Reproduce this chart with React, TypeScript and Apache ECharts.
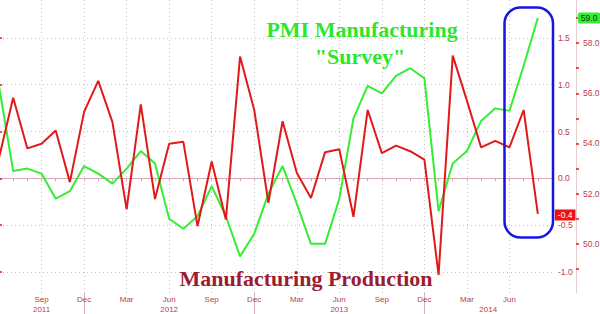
import React, { useEffect, useRef } from 'react';
import * as echarts from 'echarts';

const categories = [
  'Jun 2011', 'Jul 2011', 'Aug 2011', 'Sep 2011', 'Oct 2011', 'Nov 2011', 'Dec 2011',
  'Jan 2012', 'Feb 2012', 'Mar 2012', 'Apr 2012', 'May 2012', 'Jun 2012', 'Jul 2012', 'Aug 2012', 'Sep 2012', 'Oct 2012', 'Nov 2012', 'Dec 2012',
  'Jan 2013', 'Feb 2013', 'Mar 2013', 'Apr 2013', 'May 2013', 'Jun 2013', 'Jul 2013', 'Aug 2013', 'Sep 2013', 'Oct 2013', 'Nov 2013', 'Dec 2013',
  'Jan 2014', 'Feb 2014', 'Mar 2014', 'Apr 2014', 'May 2014', 'Jun 2014', 'Jul 2014', 'Aug 2014', 'Sep 2014',
];

// Manufacturing production, % m/m (inner right axis)
const manufacturingProduction = [
  0.22, 0.86, 0.32, 0.37, 0.51, -0.04, 0.71,
  1.04, 0.60, -0.33, 0.79, -0.22, 0.37, 0.39, -0.51, 0.18, -0.44, 1.30, 0.73,
  -0.26, 0.61, 0.06, -0.21, 0.28, 0.31, -0.41, 0.73, 0.27, 0.35, 0.29, 0.20,
  -1.03, 1.31, 0.83, 0.33, 0.40, 0.33, 0.73, -0.38,
];

// ISM manufacturing PMI (outer right axis)
const pmiManufacturing = [
  56.3, 52.9, 53.0, 52.8, 51.8, 52.1, 53.1,
  52.8, 52.4, 53.0, 53.7, 53.2, 51.0, 50.6, 51.1, 52.3, 51.1, 49.5, 50.4,
  52.0, 53.1, 51.6, 50.0, 50.0, 51.8, 55.0, 56.3, 56.0, 56.7, 57.0, 56.6,
  51.3, 53.2, 53.7, 54.9, 55.4, 55.3, 57.1, 59.0,
];

const productionTicks = [-1, -0.5, 0, 0.5, 1, 1.5];
const pmiTicks = [50, 52, 54, 56, 58];
const pmiMinorTicks = [49, 50, 51, 52, 53, 54, 55, 56, 57, 58, 59];

const titlePmi = 'PMI Manufacturing';
const titleSurvey = '"Survey"';
const titleProduction = 'Manufacturing Production';

const RED = '#e01a1a';
const GREEN = '#33ee33';
const LABEL = '#c03a4a';

export default function App() {
  const ref = useRef<HTMLDivElement>(null);

  useEffect(() => {
    if (!ref.current) return;
    const chart = echarts.init(ref.current, undefined, { renderer: 'svg' });

    // year segments: separators at December, labels centred in each segment
    const decIdx = categories.map((c, i) => (c.startsWith('Dec') ? i : -1)).filter((i) => i >= 0);
    const bounds = [0, ...decIdx, categories.length - 1];
    const yearCenters = bounds.slice(0, -1).map((b, k) => (b + bounds[k + 1]) / 2);
    const yearNames = yearCenters.map((c) => categories[Math.ceil(c)].split(' ')[1]);

    const showMonth = (i: number) => i % 3 === 0 && i > 0 && i < categories.length - 1;

    chart.setOption({
      animation: false,
      grid: { left: -1, right: 48, top: 0, bottom: 21, outerBoundsMode: 'none' },
      xAxis: [
        {
          type: 'category',
          data: categories,
          boundaryGap: false,
          axisLine: { show: true, lineStyle: { color: '#d8a8b0', width: 1 } },
          axisTick: { show: true, interval: 0, length: 3, lineStyle: { color: '#d8a8b0' } },
          axisLabel: {
            interval: (i: number) => showMonth(i),
            formatter: (v: string) => v.split(' ')[0],
            color: LABEL,
            fontSize: 8,
            lineHeight: 9,
            fontFamily: 'Liberation Sans',
            margin: 2,
          },
          splitLine: {
            show: true,
            interval: (i: number) => showMonth(i),
            lineStyle: { color: '#c4c4c4', type: [1, 3], width: 1 },
          },
        },
        {
          type: 'value',
          min: 0,
          max: categories.length - 1,
          position: 'bottom',
          axisLine: { show: false },
          splitLine: { show: false },
          axisTick: {
            show: true,
            customValues: decIdx,
            length: 21,
            lineStyle: { color: '#d8b0b8', width: 1 },
          },
          axisLabel: {
            customValues: yearCenters,
            formatter: (v: number) => {
              const k = yearCenters.findIndex((c) => Math.abs(c - v) < 0.01);
              return k >= 0 ? yearNames[k] : '';
            },
            color: LABEL,
            fontSize: 8,
            lineHeight: 9,
            fontFamily: 'Liberation Sans',
            margin: 11.5,
          },
        },
      ],
      yAxis: [
        {
          type: 'value',
          position: 'right',
          min: -1.2234,
          max: 1.904,
          axisLine: { show: true, lineStyle: { color: '#d8c4c8' } },
          axisTick: { show: true, customValues: productionTicks, length: 3, lineStyle: { color: RED, width: 1.5 } },
          axisLabel: {
            customValues: productionTicks,
            formatter: (v: number) => v.toFixed(1),
            color: LABEL,
            fontSize: 8.5,
            fontFamily: 'Liberation Sans',
            margin: 6,
          },
          splitLine: { show: true, lineStyle: { color: '#c4c4c4', type: [1, 3], width: 1 } },
        },
        {
          type: 'value',
          position: 'right',
          offset: 24,
          min: 48.04,
          max: 59.72,
          axisLine: { show: true, lineStyle: { color: '#e4ccd0' } },
          axisTick: { show: true, customValues: pmiMinorTicks, length: 3, lineStyle: { color: RED, width: 1.5 } },
          axisLabel: {
            customValues: pmiTicks,
            formatter: (v: number) => v.toFixed(1),
            color: LABEL,
            fontSize: 8.5,
            fontFamily: 'Liberation Sans',
            margin: 7,
          },
          splitLine: { show: false },
        },
      ],
      series: [
        {
          name: 'PMI Manufacturing',
          type: 'line',
          xAxisIndex: 0,
          yAxisIndex: 1,
          data: pmiManufacturing,
          showSymbol: false,
          lineStyle: { color: GREEN, width: 2 },
          itemStyle: { color: GREEN },
          endLabel: {
            show: true,
            formatter: (p: any) => Number(p.value).toFixed(1),
            color: '#0a3a0a',
            backgroundColor: GREEN,
            borderRadius: 2,
            padding: [1, 3, 1, 3],
            fontSize: 8.5,
            lineHeight: 9,
            fontFamily: 'Liberation Sans',
            offset: [32, 0],
          },
        },
        {
          name: 'Manufacturing Production',
          type: 'line',
          xAxisIndex: 0,
          yAxisIndex: 0,
          data: manufacturingProduction,
          showSymbol: false,
          lineStyle: { color: RED, width: 2 },
          itemStyle: { color: RED },
          endLabel: {
            show: true,
            formatter: (p: any) => Number(p.value).toFixed(1),
            color: '#ffffff',
            backgroundColor: '#f01010',
            padding: [1, 3, 1, 3],
            fontSize: 8.5,
            lineHeight: 9,
            fontFamily: 'Liberation Sans',
            offset: [9, 1],
          },
        },
      ],
      graphic: [
        {
          type: 'rect',
          z: 100,
          shape: { x: 504.5, y: 7.5, width: 48.5, height: 230, r: 16 },
          style: { fill: 'none', stroke: '#1616e0', lineWidth: 2.5 },
        },
        {
          type: 'text',
          z: 100,
          x: 362,
          y: 29,
          style: {
            text: titlePmi,
            fill: '#2ee52e',
            fontSize: 22,
            fontWeight: 'bold',
            fontFamily: 'Liberation Serif',
            textAlign: 'center',
            textVerticalAlign: 'middle',
          },
        },
        {
          type: 'text',
          z: 100,
          x: 360,
          y: 56,
          style: {
            text: titleSurvey,
            fill: '#2ee52e',
            fontSize: 22,
            fontWeight: 'bold',
            fontFamily: 'Liberation Serif',
            textAlign: 'center',
            textVerticalAlign: 'middle',
          },
        },
        {
          type: 'text',
          z: 100,
          x: 306,
          y: 278,
          style: {
            text: titleProduction,
            fill: '#9c1c30',
            fontSize: 22,
            fontWeight: 'bold',
            fontFamily: 'Liberation Serif',
            textAlign: 'center',
            textVerticalAlign: 'middle',
          },
        },
      ],
    });

    return () => chart.dispose();
  }, []);

  return (
    <div
      ref={ref}
      style={{ position: 'absolute', left: 0, top: 0, width: 600, height: 314, background: '#ffffff' }}
    />
  );
}
